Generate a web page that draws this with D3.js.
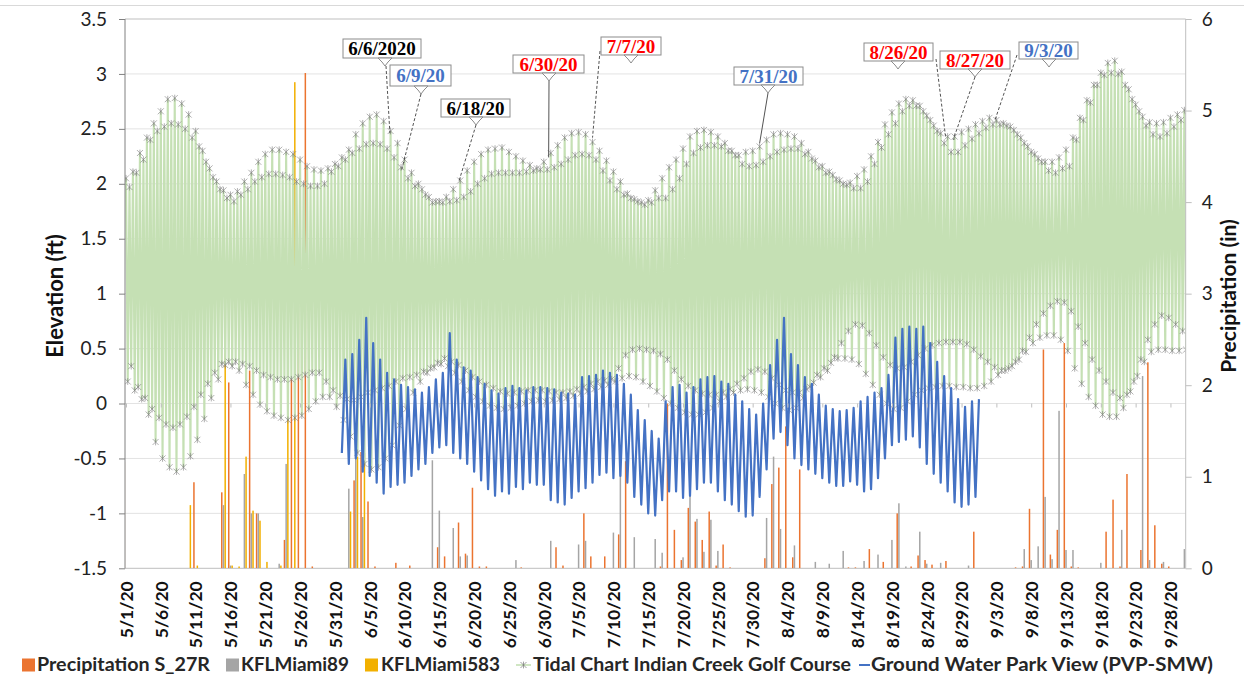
<!DOCTYPE html>
<html><head><meta charset="utf-8">
<script src="https://cdn.jsdelivr.net/npm/d3@7"></script>
<style>body{margin:0;background:#fff;}svg{display:block;}</style>
</head><body>
<svg id="chart" width="1244" height="679"></svg>
<script>
// ---------------- DATA ----------------
const startDate = "2020-05-01";           // day index 0
const dateLabels = ["5/1/20","5/6/20","5/11/20","5/16/20","5/21/20","5/26/20","5/31/20","6/5/20","6/10/20","6/15/20","6/20/20","6/25/20","6/30/20","7/5/20","7/10/20","7/15/20","7/20/20","7/25/20","7/30/20","8/4/20","8/9/20","8/14/20","8/19/20","8/24/20","8/29/20","9/3/20","9/8/20","9/13/20","9/18/20","9/23/20","9/28/20"];
const leftTicks = [-1.5,-1,-0.5,0,0.5,1,1.5,2,2.5,3,3.5];
const rightTicks = [0,1,2,3,4,5,6];

// Tidal chart (ft): daily higher high, lower high, higher low, lower low (5/1 .. 9/30)
const tideHigherHigh = [2.05,2.11,2.28,2.42,2.55,2.66,2.77,2.78,2.73,2.63,
 2.48,2.30,2.14,2.02,1.94,1.90,1.93,2.02,2.10,2.20,
 2.27,2.31,2.31,2.29,2.27,2.22,2.16,2.13,2.12,2.14,
 2.18,2.24,2.31,2.45,2.55,2.61,2.63,2.57,2.48,2.37,
 2.22,2.10,2.00,1.90,1.83,1.84,1.88,1.95,2.03,2.12,
 2.20,2.27,2.31,2.32,2.33,2.29,2.25,2.21,2.17,2.14,
 2.20,2.28,2.35,2.42,2.46,2.47,2.45,2.38,2.30,2.21,
 2.11,2.02,1.91,1.86,1.83,1.85,1.94,2.05,2.15,2.22,
 2.32,2.43,2.48,2.49,2.47,2.43,2.37,2.30,2.26,2.29,
 2.30,2.34,2.40,2.45,2.46,2.45,2.43,2.37,2.29,2.21,
 2.16,2.11,2.04,2.00,2.01,2.07,2.13,2.25,2.38,2.54,
 2.65,2.73,2.77,2.76,2.71,2.62,2.53,2.46,2.43,2.43,
 2.47,2.50,2.54,2.57,2.60,2.58,2.55,2.52,2.45,2.37,
 2.29,2.23,2.20,2.20,2.24,2.31,2.42,2.60,2.76,2.90,
 3.01,3.10,3.12,3.02,2.86,2.72,2.61,2.56,2.55,2.56,
 2.60,2.63,2.67];
const tideLowerHigh = [1.97,2.10,2.22,2.40,2.48,2.52,2.55,2.54,2.50,2.42,
 2.34,2.20,2.06,1.95,1.87,1.84,1.90,1.95,2.02,2.06,
 2.09,2.09,2.08,2.06,2.02,2.00,1.98,1.98,2.00,2.11,
 2.16,2.22,2.28,2.32,2.36,2.37,2.36,2.32,2.24,2.15,
 2.05,1.98,1.95,1.88,1.84,1.83,1.84,1.85,1.88,1.93,
 2.00,2.05,2.09,2.10,2.10,2.10,2.10,2.11,2.12,2.13,
 2.13,2.15,2.18,2.22,2.26,2.27,2.26,2.22,2.12,2.03,
 1.95,1.90,1.87,1.84,1.81,1.83,1.87,1.87,1.95,2.05,
 2.18,2.28,2.33,2.35,2.35,2.34,2.30,2.26,2.18,2.16,
 2.17,2.20,2.25,2.29,2.31,2.32,2.32,2.27,2.23,2.15,
 2.10,2.08,2.03,1.99,1.96,1.96,2.02,2.18,2.33,2.45,
 2.55,2.66,2.71,2.71,2.66,2.58,2.48,2.37,2.29,2.29,
 2.35,2.41,2.46,2.51,2.54,2.54,2.53,2.49,2.42,2.34,
 2.27,2.20,2.12,2.10,2.14,2.16,2.40,2.58,2.74,2.90,
 2.99,3.01,3.00,2.90,2.77,2.66,2.53,2.45,2.43,2.46,
 2.52,2.58,2.66];
const tideHigherLow = [0.34,0.15,0.05,-0.05,-0.13,-0.19,-0.22,-0.19,-0.12,-0.03,
 0.08,0.18,0.28,0.36,0.38,0.38,0.36,0.34,0.30,0.26,
 0.24,0.22,0.22,0.22,0.24,0.26,0.28,0.28,0.20,0.12,
 0.07,0.04,0.03,0.06,0.10,0.12,0.14,0.16,0.20,0.23,
 0.24,0.26,0.29,0.32,0.37,0.41,0.38,0.35,0.30,0.24,
 0.20,0.17,0.14,0.11,0.09,0.10,0.11,0.12,0.12,0.12,
 0.11,0.10,0.10,0.11,0.13,0.15,0.18,0.20,0.21,0.22,
 0.32,0.44,0.49,0.50,0.49,0.48,0.45,0.40,0.30,0.22,
 0.16,0.12,0.09,0.08,0.08,0.10,0.13,0.18,0.23,0.29,
 0.31,0.29,0.23,0.17,0.12,0.10,0.10,0.13,0.19,0.24,
 0.30,0.42,0.55,0.66,0.72,0.71,0.64,0.53,0.42,0.35,
 0.32,0.33,0.38,0.44,0.50,0.53,0.55,0.56,0.56,0.56,
 0.54,0.49,0.43,0.38,0.33,0.30,0.32,0.38,0.48,0.60,
 0.72,0.82,0.89,0.93,0.92,0.84,0.70,0.55,0.40,0.30,
 0.20,0.10,0.05,0.08,0.20,0.40,0.58,0.72,0.80,0.78,
 0.72,0.66,0.62];
const tideLowerLow = [0.20,0.12,0.04,-0.10,-0.35,-0.50,-0.58,-0.62,-0.58,-0.48,
 -0.33,-0.14,0.05,0.22,0.35,0.34,0.30,0.17,0.08,-0.01,
 -0.07,-0.11,-0.13,-0.15,-0.13,-0.11,-0.05,0.02,0.06,0.06,
 -0.03,-0.15,-0.30,-0.45,-0.55,-0.60,-0.58,-0.50,-0.38,-0.20,
 -0.05,0.10,0.20,0.28,0.33,0.36,0.34,0.28,0.20,0.12,
 0.06,0.02,-0.02,-0.04,-0.05,-0.04,-0.02,0.00,0.02,0.03,
 0.02,0.03,0.04,0.05,0.07,0.09,0.11,0.13,0.15,0.17,
 0.20,0.23,0.25,0.24,0.20,0.16,0.11,0.05,0.00,-0.04,
 -0.08,-0.10,-0.10,-0.08,-0.04,0.02,0.06,0.10,0.12,0.13,
 0.12,0.10,0.06,0.00,-0.04,-0.06,-0.04,0.05,0.15,0.26,
 0.32,0.37,0.41,0.41,0.40,0.36,0.27,0.17,0.08,0.00,
 -0.05,-0.04,0.02,0.08,0.12,0.14,0.15,0.16,0.16,0.15,
 0.15,0.14,0.14,0.16,0.20,0.26,0.30,0.34,0.40,0.47,
 0.55,0.60,0.62,0.62,0.58,0.48,0.32,0.18,0.06,-0.02,
 -0.10,-0.12,-0.12,-0.04,0.11,0.25,0.38,0.47,0.49,0.49,
 0.48,0.48,0.49];

// Ground water Park View (ft): daily low and high, 6/1 .. 8/31
const gwStartDay = 31;
const gwHigh = [0.40,0.45,0.58,0.78,0.55,0.40,0.28,0.22,0.17,0.15,
 0.13,0.10,0.15,0.22,0.28,0.64,0.40,0.33,0.30,0.24,
 0.18,0.12,0.09,0.14,0.16,0.14,0.12,0.15,0.15,0.14,
 0.13,0.10,0.09,0.08,0.24,0.25,0.26,0.30,0.28,0.26,
 0.18,0.08,-0.06,-0.15,-0.25,-0.32,0.02,0.15,0.17,0.10,
 0.15,0.22,0.24,0.25,0.20,0.18,0.08,0.02,-0.05,-0.10,
 0.00,0.35,0.58,0.78,0.45,0.35,0.24,0.18,0.08,-0.02,
 -0.05,-0.07,-0.06,-0.04,0.02,0.06,0.10,0.14,0.26,0.60,
 0.68,0.70,0.68,0.70,0.55,0.38,0.25,0.14,0.04,-0.03,
 0.02,0.04];
const gwLow = [-0.45,-0.55,-0.50,-0.62,-0.66,-0.72,-0.82,-0.76,-0.74,-0.72,
 -0.66,-0.60,-0.55,-0.45,-0.40,-0.38,-0.45,-0.50,-0.55,-0.62,
 -0.70,-0.78,-0.84,-0.80,-0.82,-0.76,-0.78,-0.72,-0.74,-0.74,
 -0.88,-0.90,-0.92,-0.86,-0.80,-0.77,-0.72,-0.65,-0.63,-0.68,
 -0.66,-0.72,-0.85,-0.92,-1.00,-1.02,-0.88,-0.80,-0.80,-0.86,
 -0.84,-0.78,-0.72,-0.72,-0.80,-0.88,-0.92,-0.98,-1.03,-1.02,
 -0.85,-0.60,-0.32,-0.26,-0.38,-0.50,-0.56,-0.60,-0.64,-0.68,
 -0.72,-0.75,-0.75,-0.71,-0.74,-0.80,-0.78,-0.68,-0.50,-0.38,
 -0.35,-0.33,-0.30,-0.40,-0.55,-0.64,-0.72,-0.80,-0.90,-0.94,
 -0.92,-0.85];

// Daily precipitation (in), 5/1 .. 9/30
const precipS27R = [1.16,0,0,0,0,0,0,0,0,0,
 0.94,0,0,0,0.83,2.03,0,0,2.16,0.60,
 0,0,0,0.31,2.07,2.90,5.41,0.02,0,0,
 0,0,0,0.96,1.27,0.73,0.02,0,0,0.06,
 0,0.03,0,0,0,0.23,0.13,0,0.50,0.16,
 0.88,0.02,0.02,0,0,0,0,0.01,0,0,
 0,0,0.23,0.03,0,0,0.60,0.13,0,0.13,
 0,0.37,1.17,0,0,0,0,0.02,1.80,0.42,
 0.09,0.66,0.51,0.31,0.62,0.03,0.26,0.01,0,0,
 0,0,0.11,0.92,1.10,1.55,0.12,1.08,0,0,
 0,0,0,0,0.01,0.01,0,0.21,0,0.07,
 0,0.60,0,0.02,0.14,0.09,0.04,0,0.08,0,
 0,0,0.40,0,0,0,0,0,0.01,0.02,
 0.65,0,2.39,0.15,0.42,2.46,0.02,0.01,0,0,
 0,0.40,0.75,0.02,1.03,0,0.20,2.25,0.47,0.05,
 0.02,0,0];
const precipKFL89 = [0,0,0,0,0,0,0,0,0,0,
 0,0,0,0,0.69,0.03,0,1.03,0.60,0.60,
 0,0,0.05,1.14,0,0,0,0,0,0,
 0,0,0.87,1.33,0.56,0,0,0,0,0,
 0,0,0,0,1.18,0.63,0,0.44,0.13,0.14,
 0,0,0,0,0,0,0.09,0,0,0,
 0,0.30,0,0,0,0.26,0.30,0,0,0,
 0.39,1.14,0,0.34,0,0,0.32,0.17,0,0,
 0.12,0.94,0.54,0.18,0.53,0.19,0,0,0,0,
 0,0,0.55,1.22,0.43,0,0.25,0,0,0.07,
 0,0.05,0,0.19,0,0,0.08,0,0.15,0,
 0.31,0.71,0.02,0,0.40,0.05,0,0.06,0,0,
 0,0.03,0,0,0,0,0,0,0,0.21,
 0.09,0.24,0.78,0.10,1.72,0.20,0.20,0,0,0,
 0.06,0,0,0.42,0,0,2.10,0.09,0,0.07,
 0,0,0.21];
const precipKFL583 = [0,0,0,0,0,0,0,0,0,0.69,
 0.03,0,0,0,2.35,0.03,0.02,1.22,0.63,0.52,
 0.07,0,0.03,2.28,5.31,0,0,0,0,0,
 0,0,0.62,1.22,1.26,0,0,0,0,0];

const seriesNames = ["Precipitation S_27R","KFLMiami89","KFLMiami583","Tidal Chart Indian Creek Golf Course","Ground Water Park View (PVP-SMW)"];

// Callout annotations: label, colour, target (day index, ft)
const annotLabels = ["6/6/2020","6/9/20","6/18/20","6/30/20","7/7/20","7/31/20","8/26/20","8/27/20","9/3/20"];
const annotColors = ["#000000","#4472C4","#000000","#FF0000","#FF0000","#4472C4","#FF0000","#FF0000","#4472C4"];
const annotTargetDay = [37.9, 39.6, 47.8, 60.7, 67.0, 91.0, 117.7, 118.8, 124.8];
const annotTargetFt  = [2.46, 2.13, 2.02, 2.24, 2.42, 2.37, 2.43, 2.40, 2.58];

// ---------------- LAYOUT ----------------
const W = 1244, H = 679;
const plot = {left:125, right:1185.7, top:19, bottom:568.3};
const annotLayout = [ // box x, y, w, h, pointer x, leader start x,y, dashed
 {bx:343, by:39, bw:78, bh:19, px:385, lx:386, ly:66, dash:true},
 {bx:390, by:65, bw:61, bh:21, px:421, lx:421, ly:94, dash:true},
 {bx:441, by:99, bw:69, bh:18, px:476, lx:476, ly:125, dash:true},
 {bx:513, by:55, bw:71, bh:18, px:549, lx:549, ly:81, dash:false},
 {bx:601, by:37, bw:60, bh:18, px:631, lx:600, ly:51, dash:true},
 {bx:734, by:67, bw:69, bh:18, px:768, lx:768, ly:93, dash:false},
 {bx:864, by:43, bw:69, bh:18, px:898, lx:936, ly:59, dash:true},
 {bx:940, by:51, bw:70, bh:18, px:975, lx:975, ly:77, dash:true},
 {bx:1019, by:42, bw:59, bh:17, px:1049, lx:1017, ly:55, dash:true}
];

const svg = d3.select("#chart");
const DAY = 864e5;
const t0 = d3.utcParse("%Y-%m-%d")(startDate).getTime();
const atDay = d => new Date(t0 + d * DAY);
const parseLabel = d3.utcParse("%m/%d/%y");

const x = d3.scaleUtc().domain([atDay(-0.144), atDay(152.19)]).range([plot.left, plot.right]);
const yL = d3.scaleLinear().domain([-1.5, 3.5]).range([plot.bottom, plot.top]);
const yR = d3.scaleLinear().domain([0, 6]).range([plot.bottom, plot.top]);

const FONT = "Lato, 'Open Sans', sans-serif";

// outer chart border (top)
svg.append("line").attr("x1",0).attr("x2",W).attr("y1",5.5).attr("y2",5.5).attr("stroke","#d9d9d9");

// gridlines
svg.append("g").selectAll("line").data(leftTicks).join("line")
  .attr("x1", plot.left).attr("x2", plot.right)
  .attr("y1", d => yL(d)).attr("y2", d => yL(d))
  .attr("stroke", d => (d === 3.5 || d === -1.5) ? "#bfbfbf" : "#e3e3e3")
  .attr("stroke-width", 1);

svg.append("defs").append("clipPath").attr("id","clip")
  .append("rect").attr("x", plot.left).attr("y", plot.top)
  .attr("width", plot.right - plot.left).attr("height", plot.bottom - plot.top);

// precipitation bars (secondary axis)
const barSeries = [
  {values: precipS27R, color: "#EB7430", off: -1.7},
  {values: precipKFL89, color: "#A5A5A5", off: 0},
  {values: precipKFL583, color: "#F2B000", off: 1.7}
];
const barW = 1.5;
const barG = svg.append("g").attr("clip-path","url(#clip)");
barSeries.forEach(s => {
  barG.append("g").selectAll("rect")
    .data(s.values.map((v, i) => ({v, i})).filter(d => d.v > 0))
    .join("rect")
    .attr("x", d => x(atDay(d.i)) + s.off - barW / 2)
    .attr("y", d => yR(d.v))
    .attr("width", barW)
    .attr("height", d => yR(0) - yR(d.v))
    .attr("fill", s.color);
});

// tidal series
const tidePts = [];
tideHigherHigh.forEach((v, i) => {
  tidePts.push({t: atDay(i), v: tideHigherHigh[i]});
  tidePts.push({t: atDay(i + 0.25), v: tideLowerLow[i]});
  tidePts.push({t: atDay(i + 0.5), v: tideLowerHigh[i]});
  tidePts.push({t: atDay(i + 0.75), v: tideHigherLow[i]});
});
const line = d3.line().x(d => x(d.t)).y(d => yL(d.v));
const tideG = svg.append("g").attr("clip-path","url(#clip)");
tideG.append("path").datum(tidePts).attr("d", line)
  .attr("fill","none").attr("stroke","#C5E0B4").attr("stroke-width",2.1).attr("stroke-linejoin","bevel");
const star = "M-3,-3L3,3M-3,3L3,-3M0,-3.4L0,3.4";
tideG.append("g").selectAll("path").data(tidePts).join("path")
  .attr("transform", d => `translate(${x(d.t)},${yL(d.v)})`)
  .attr("d", star).attr("fill","none").attr("stroke","#7a7a7a").attr("stroke-width",0.6);

// ground water series
const gwPts = [];
gwHigh.forEach((v, i) => {
  gwPts.push({t: atDay(gwStartDay + i), v: gwLow[i]});
  gwPts.push({t: atDay(gwStartDay + i + 0.5), v: gwHigh[i]});
});
svg.append("path").datum(gwPts).attr("d", line).attr("clip-path","url(#clip)")
  .attr("fill","none").attr("stroke","#4472C4").attr("stroke-width",2.2).attr("stroke-linejoin","round");

// axis frame lines
svg.append("line").attr("x1",plot.left).attr("x2",plot.left).attr("y1",plot.top).attr("y2",plot.bottom)
  .attr("stroke","#808080");
svg.append("line").attr("x1",plot.right).attr("x2",plot.right).attr("y1",plot.top).attr("y2",plot.bottom)
  .attr("stroke","#bfbfbf");

// left axis
const axL = svg.append("g").attr("transform",`translate(${plot.left},0)`)
  .call(d3.axisLeft(yL).tickValues(leftTicks).tickSize(6).tickPadding(12).tickFormat(d => String(d)));
axL.select(".domain").remove();
axL.selectAll("line").attr("stroke","#808080");
axL.selectAll("text").attr("font-family",FONT).attr("font-size",19).attr("fill","#222");

// right axis
const axR = svg.append("g").attr("transform",`translate(${plot.right},0)`)
  .call(d3.axisRight(yR).tickValues(rightTicks).tickSize(6).tickPadding(10).tickFormat(d => String(d)));
axR.select(".domain").remove();
axR.selectAll("line").attr("stroke","#bfbfbf");
axR.selectAll("text").attr("font-family",FONT).attr("font-size",19).attr("fill","#222");

// x axis ticks (at 0 ft line) and labels (bottom)
const tickDates = dateLabels.map(parseLabel);
const axTicks = svg.append("g").attr("transform",`translate(0,${yL(0)})`)
  .call(d3.axisBottom(x).tickValues(tickDates).tickSize(4).tickFormat(""));
axTicks.select(".domain").remove();
axTicks.selectAll("line").attr("stroke","#bfbfbf");

const axB = svg.append("g").attr("transform",`translate(0,${plot.bottom})`)
  .call(d3.axisBottom(x).tickValues(tickDates).tickSize(0).tickFormat((d, i) => dateLabels[i]));
axB.select(".domain").remove();
axB.selectAll("text")
  .attr("font-family",FONT).attr("font-size",17.5).attr("font-weight","bold").attr("fill","#111")
  .attr("text-anchor","end").attr("transform","rotate(-90)")
  .attr("x",-13).attr("y",0).attr("dy","0.36em");

// axis titles
svg.append("text").attr("transform","translate(55,296) rotate(-90)")
  .attr("text-anchor","middle").attr("dy","0.35em")
  .attr("font-family",FONT).attr("font-size",22).attr("font-weight","bold").attr("fill","#111")
  .text("Elevation (ft)");
svg.append("text").attr("transform","translate(1229,296) rotate(-90)")
  .attr("text-anchor","middle").attr("dy","0.35em")
  .attr("font-family",FONT).attr("font-size",21).attr("font-weight","bold").attr("fill","#111")
  .text("Precipitation (in)");

// callouts
const annG = svg.append("g");
annotLabels.forEach((lab, i) => {
  const L = annotLayout[i];
  const tx = x(atDay(annotTargetDay[i])), ty = yL(annotTargetFt[i]);
  annG.append("line").attr("x1",L.lx).attr("y1",L.ly).attr("x2",tx).attr("y2",ty)
    .attr("stroke","#404040").attr("stroke-width",0.9)
    .attr("stroke-dasharray", L.dash ? "3,2" : null);
  annG.append("rect").attr("x",L.bx).attr("y",L.by).attr("width",L.bw).attr("height",L.bh)
    .attr("fill","#fff").attr("stroke","#8c8c8c").attr("stroke-width",1);
  const py = L.by + L.bh;
  annG.append("path")
    .attr("d",`M${L.px-7},${py}L${L.px+7},${py}L${L.px+3},${py+4}L${L.px},${py+8}L${L.px-3},${py+4}Z`)
    .attr("fill","#fff").attr("stroke","#8c8c8c").attr("stroke-width",1);
  annG.append("text").attr("x",L.bx + L.bw/2).attr("y",L.by + L.bh/2).attr("dy","0.35em")
    .attr("text-anchor","middle").attr("font-family","'Liberation Serif','Times New Roman',serif")
    .attr("font-weight","bold").attr("font-size",19).attr("fill",annotColors[i]).text(lab);
});

// legend
const legY = 665;
const leg = svg.append("g").attr("font-family",FONT).attr("font-size",18).attr("font-weight","bold").attr("fill","#262626");
const legItems = [
  {type:"rect", color:"#EB7430", sx:22, tx:37, tw:173},
  {type:"rect", color:"#A5A5A5", sx:226, tx:241, tw:108},
  {type:"rect", color:"#F2B000", sx:365, tx:381, tw:119},
  {type:"tide", color:"#C5E0B4", sx:516, tx:533, tw:318},
  {type:"gw", color:"#4472C4", sx:859, tx:871, tw:342}
];
legItems.forEach((it, i) => {
  if (it.type === "rect") {
    leg.append("rect").attr("x",it.sx).attr("y",legY-6.5).attr("width",13).attr("height",13).attr("fill",it.color);
  } else if (it.type === "tide") {
    leg.append("line").attr("x1",it.sx).attr("x2",it.sx+15).attr("y1",legY).attr("y2",legY).attr("stroke",it.color).attr("stroke-width",1.6);
    leg.append("path").attr("transform",`translate(${it.sx+7.5},${legY})`).attr("d",star).attr("fill","none").attr("stroke","#7a7a7a").attr("stroke-width",0.7);
  } else {
    leg.append("line").attr("x1",it.sx).attr("x2",it.sx+11).attr("y1",legY).attr("y2",legY).attr("stroke",it.color).attr("stroke-width",2);
  }
  leg.append("text").attr("x",it.tx).attr("y",legY).attr("dy","0.36em")
    .attr("textLength",it.tw).attr("lengthAdjust","spacingAndGlyphs").text(seriesNames[i]);
});
</script>
</body></html>
